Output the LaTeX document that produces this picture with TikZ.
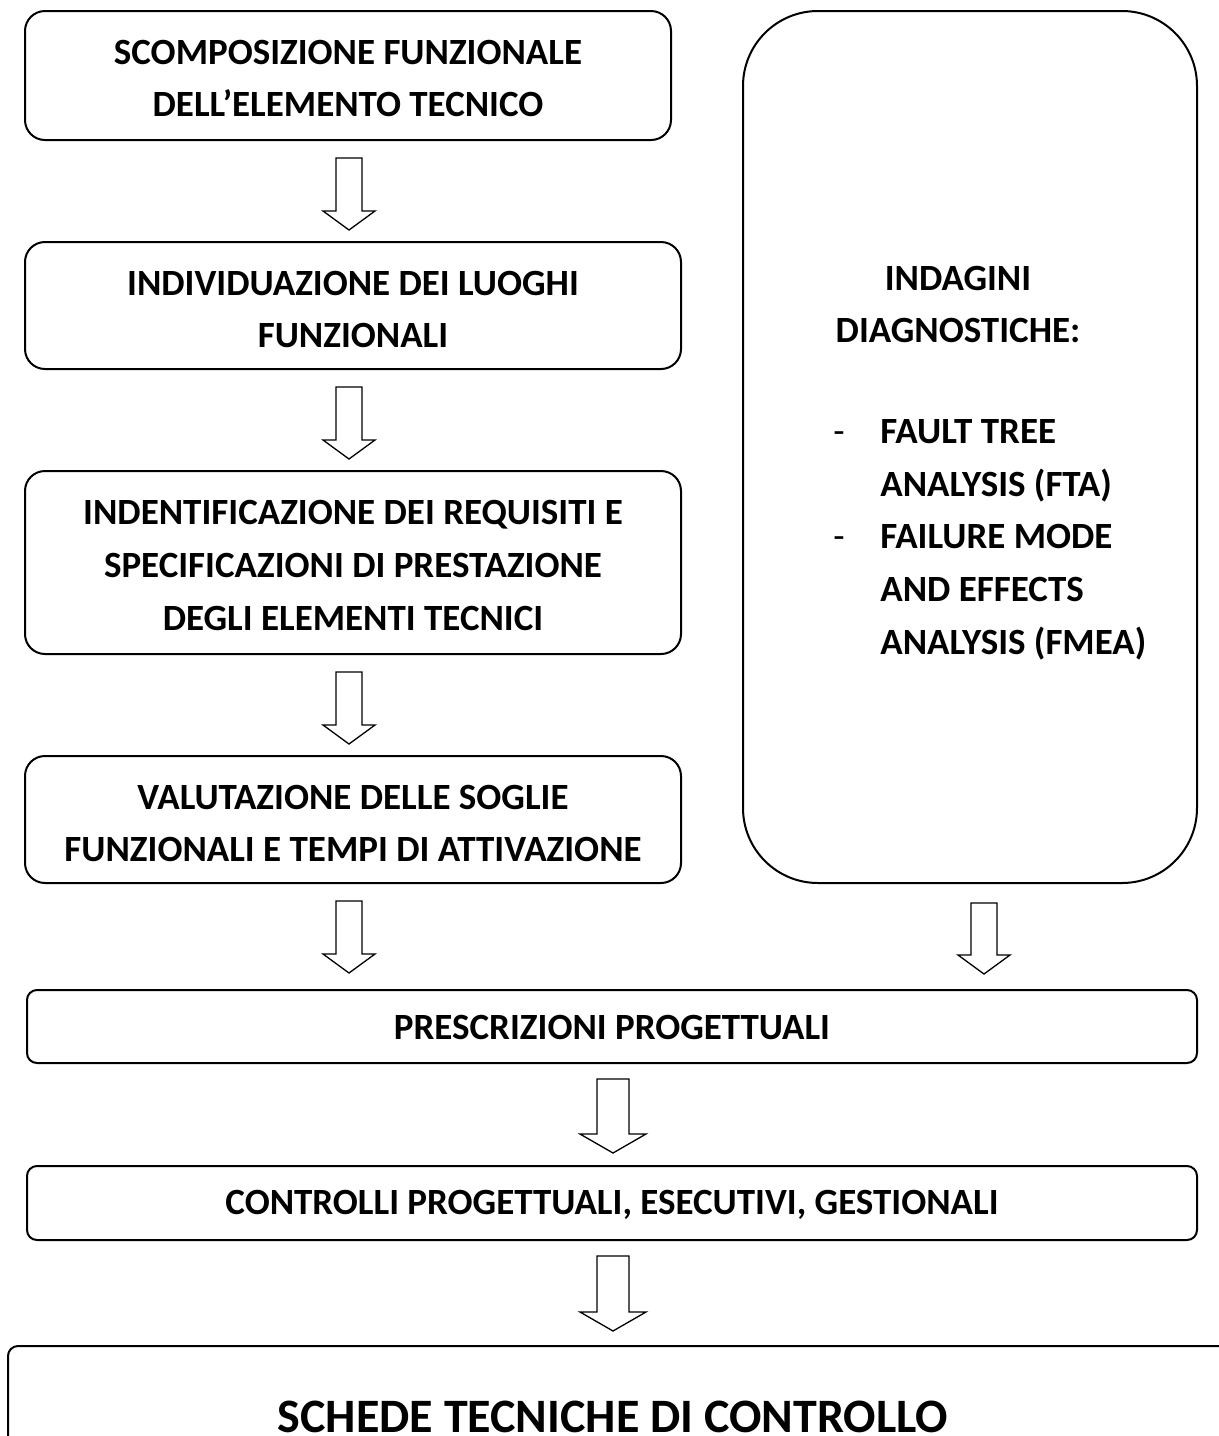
\documentclass[tikz,border=0pt]{standalone}
\usepackage{fontspec}
\setmainfont{Carlito}
\usetikzlibrary{calc}

\tikzset{
  x=0.5pt, y=-0.5pt,
  box/.style={draw, line width=1pt, rounded corners=10pt, inner sep=0pt},
  widebox/.style={box, rounded corners=5pt},
  txt/.style={inner sep=0pt, align=center, font=\bfseries\fontsize{18.5}{26.3}\selectfont},
  arrowline/.style={draw, line width=0.65pt, fill=white, line join=miter},
  pics/downarrow/.style args={#1/#2/#3}{
    code={\path[arrowline] (-#1,0) -- (-#1,#3-19) -- (-#2,#3-19) -- (0,#3)
      -- (#2,#3-19) -- (#1,#3-19) -- (#1,0) -- cycle;}
  }
}
\newcommand{\listdash}{\makebox[23.5pt][l]{\mdseries -}}

\begin{document}
\begin{tikzpicture}
\useasboundingbox (0,0) rectangle (1219,1436);
\clip (0,0) rectangle (1219,1436);

% left column of steps
\node[box, minimum width=323pt, minimum height=64.5pt] (b1) at (348,75.5) {};
\node[box, minimum width=328pt, minimum height=63.5pt] (b2) at (353,305.5) {};
\node[box, minimum width=328pt, minimum height=91.5pt] (b3) at (353,562.5) {};
\node[box, minimum width=328pt, minimum height=63.5pt] (b4) at (353,819.5) {};

\node[txt] (t1) at ($(b1.center)+(0,3)$) {SCOMPOSIZIONE FUNZIONALE\\DELL’ELEMENTO TECNICO};
\node[txt] (t2) at ($(b2.center)+(0,4)$) {INDIVIDUAZIONE DEI LUOGHI\\FUNZIONALI};
\node[txt] (t3) at ($(b3.center)+(0,3)$)
  {INDENTIFICAZIONE DEI REQUISITI E\\SPECIFICAZIONI DI PRESTAZIONE\\DEGLI ELEMENTI TECNICI};
\node[txt] (t4) at ($(b4.center)+(0,4)$) {VALUTAZIONE DELLE SOGLIE\\FUNZIONALI E TEMPI DI ATTIVAZIONE};

% diagnostic investigations column
\node[box, rounded corners=37.5pt, minimum width=227pt, minimum height=436pt] (r) at (970,447) {};
\node[txt] (rtitle) at (958,304.5) {INDAGINI\\DIAGNOSTICHE:};
\node[txt, align=left, anchor=west] (rlist) at (833,539.6)
  {\listdash FAULT TREE\\
   \hspace*{23.5pt}ANALYSIS (FTA)\\
   \listdash FAILURE MODE\\
   \hspace*{23.5pt}AND EFFECTS\\
   \hspace*{23.5pt}ANALYSIS (FMEA)};

% full-width steps
\node[widebox, minimum width=585pt, minimum height=36.5pt] (b5) at (612,1026.5) {};
\node[widebox, minimum width=585pt, minimum height=37pt] (b6) at (612,1203) {};
\node[widebox, minimum width=616pt, minimum height=57pt] (b7) at (624,1403) {};

\node[txt] (t5) at ($(b5.center)+(0,1)$) {PRESCRIZIONI PROGETTUALI};
\node[txt] (t6) at ($(b6.center)+(0,2)$) {CONTROLLI PROGETTUALI, ESECUTIVI, GESTIONALI};
\node[txt, font=\bfseries\fontsize{24}{30}\selectfont] (t7) at (613,1416.5)
  {SCHEDE TECNICHE DI CONTROLLO};

% block arrows between the steps
\path (b1.south) ++(1,17)  pic {downarrow=13/26/72};
\path (b2.south) ++(-4,17) pic {downarrow=13/26/72};
\path (b3.south) ++(-4,17) pic {downarrow=13/26/72};
\path (b4.south) ++(-4,17) pic {downarrow=13/26/72};
\path (r.south)  ++(14,19) pic {downarrow=13/26/71};
\path (b5.south) ++(1,15)  pic {downarrow=16/33/74};
\path (b6.south) ++(1,15)  pic {downarrow=16/33/75};
\end{tikzpicture}
\end{document}
